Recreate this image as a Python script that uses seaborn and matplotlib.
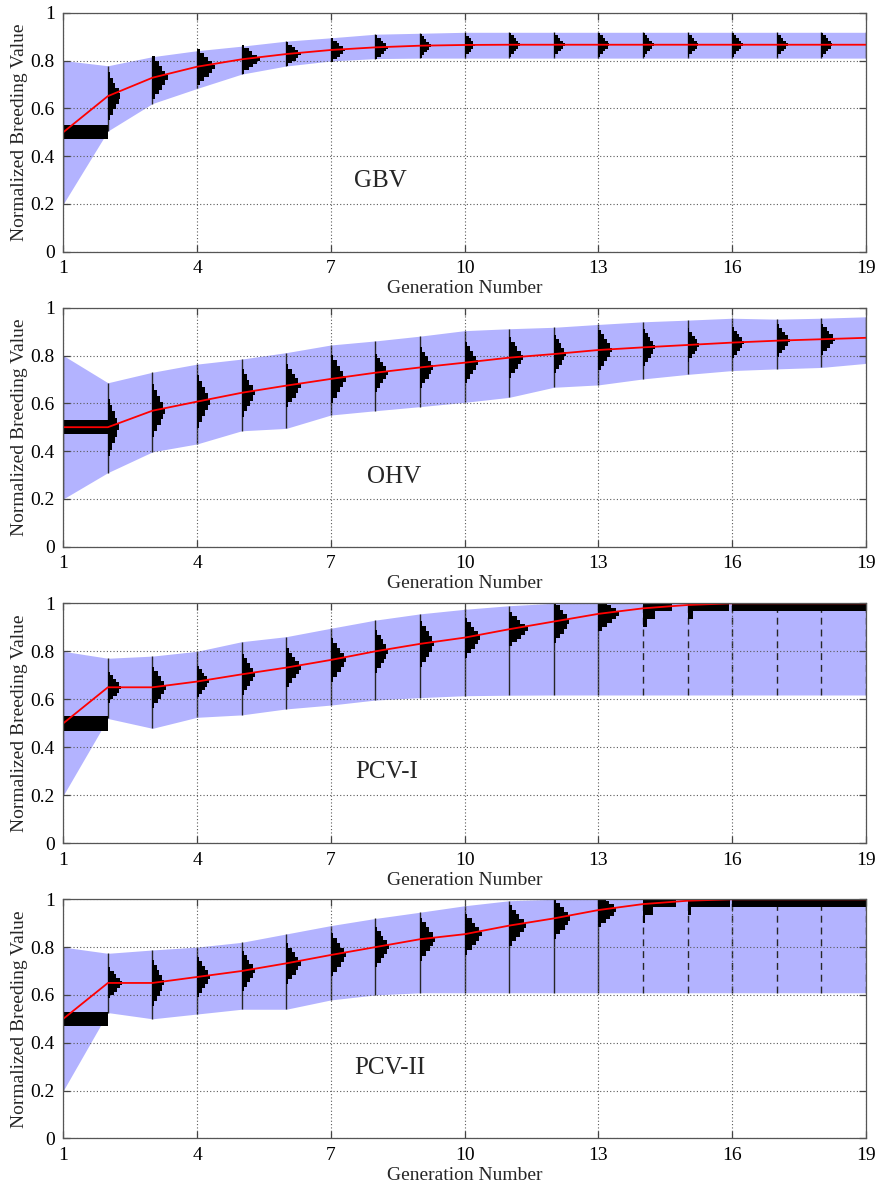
import matplotlib
matplotlib.use("Agg")
import matplotlib.pyplot as plt
import seaborn as sns
import numpy as np

# ---------------- data ----------------
GENS = list(range(1, 20))
PANEL_NAMES = ["GBV", "OHV", "PCV-I", "PCV-II"]
X_TICKS = [1, 4, 7, 10, 13, 16, 19]
Y_TICKS = [0, 0.2, 0.4, 0.6, 0.8, 1.0]
Y_TICK_LABELS = ["0", "0.2", "0.4", "0.6", "0.8", "1"]

GBV_MEAN = [0.50, 0.651, 0.728, 0.774, 0.805, 0.827, 0.844, 0.855, 0.862, 0.865,
            0.866, 0.866, 0.866, 0.866, 0.866, 0.866, 0.866, 0.866, 0.866]
GBV_UPPER = [0.80, 0.778, 0.816, 0.841, 0.860, 0.881, 0.895, 0.910, 0.914, 0.918,
             0.918, 0.918, 0.918, 0.918, 0.918, 0.918, 0.918, 0.918, 0.918]
GBV_LOWER = [0.20, 0.505, 0.620, 0.683, 0.743, 0.777, 0.798, 0.808, 0.810, 0.810,
             0.810, 0.810, 0.810, 0.810, 0.810, 0.810, 0.810, 0.810, 0.810]
GBV_HALF = [0.03, 0.10, 0.09, 0.075, 0.06, 0.05, 0.05, 0.05, 0.05, 0.05,
            0.05, 0.05, 0.05, 0.05, 0.05, 0.05, 0.05, 0.05, 0.05]
GBV_PEAK = [1.0, 0.28, 0.34, 0.40, 0.40, 0.32, 0.32, 0.29, 0.24, 0.23,
            0.24, 0.24, 0.24, 0.24, 0.24, 0.24, 0.24, 0.24, 0.24]
GBV_TOP = {}

OHV_MEAN = [0.50, 0.50, 0.569, 0.607, 0.644, 0.674, 0.702, 0.728, 0.750, 0.770,
            0.791, 0.806, 0.823, 0.834, 0.844, 0.854, 0.862, 0.868, 0.874]
OHV_UPPER = [0.80, 0.686, 0.730, 0.764, 0.785, 0.812, 0.844, 0.861, 0.881, 0.904,
             0.912, 0.918, 0.930, 0.941, 0.948, 0.956, 0.952, 0.956, 0.962]
OHV_LOWER = [0.20, 0.310, 0.397, 0.430, 0.485, 0.495, 0.551, 0.569, 0.586, 0.604,
             0.625, 0.667, 0.677, 0.702, 0.721, 0.737, 0.744, 0.750, 0.767]
OHV_HALF = [0.03, 0.12, 0.11, 0.11, 0.10, 0.09, 0.10, 0.08, 0.085, 0.087,
            0.085, 0.08, 0.085, 0.077, 0.07, 0.065, 0.068, 0.065, 0.065]
OHV_PEAK = [1.0, 0.25, 0.28, 0.29, 0.29, 0.32, 0.33, 0.27, 0.30, 0.30,
            0.30, 0.28, 0.31, 0.27, 0.26, 0.27, 0.29, 0.30, 0.30]
OHV_TOP = {}

PCV1_MEAN = [0.50, 0.650, 0.650, 0.674, 0.704, 0.732, 0.764, 0.800, 0.831, 0.857,
             0.892, 0.924, 0.956, 0.979, 0.993, 1.0, 1.0, 1.0, 1.0]
PCV1_UPPER = [0.80, 0.771, 0.780, 0.800, 0.840, 0.861, 0.896, 0.930, 0.956, 0.975,
              0.990, 1.0, 1.0, 1.0, 1.0, 1.0, 1.0, 1.0, 1.0]
PCV1_LOWER = [0.20, 0.520, 0.479, 0.525, 0.535, 0.560, 0.576, 0.597, 0.607, 0.615,
              0.617, 0.618, 0.618, 0.618, 0.618, 0.618, 0.618, 0.618, 0.618]
PCV1_HALF = [0.03, 0.065, 0.085, 0.065, 0.085, 0.08, 0.09, 0.09, 0.097, 0.083,
             0.07, 0.09, 0.07, 0.03, 0.03, 0.03, 0.03, 0.03, 0.03]
PCV1_PEAK = [1.0, 0.30, 0.30, 0.26, 0.30, 0.34, 0.34, 0.29, 0.32, 0.34,
             0.41, 0.35, 0.47, 0.65, 0.92, 1.0, 1.0, 1.0, 1.0]
PCV1_TOP = {14: [1.0, 0.43, 0.12], 15: [1.0, 0.12], 16: [1.0], 17: [1.0],
            18: [1.0], 19: [1.0]}

PCV2_MEAN = [0.50, 0.650, 0.650, 0.675, 0.700, 0.732, 0.767, 0.800, 0.833, 0.854,
             0.890, 0.920, 0.955, 0.980, 0.994, 1.0, 1.0, 1.0, 1.0]
PCV2_UPPER = [0.80, 0.774, 0.788, 0.800, 0.820, 0.855, 0.890, 0.920, 0.946, 0.973,
              0.994, 1.0, 1.0, 1.0, 1.0, 1.0, 1.0, 1.0, 1.0]
PCV2_LOWER = [0.20, 0.526, 0.500, 0.520, 0.540, 0.540, 0.579, 0.600, 0.609, 0.609,
              0.609, 0.609, 0.609, 0.609, 0.609, 0.609, 0.609, 0.609, 0.609]
PCV2_HALF = [0.03, 0.065, 0.095, 0.085, 0.085, 0.085, 0.09, 0.085, 0.09, 0.085,
             0.085, 0.085, 0.07, 0.03, 0.03, 0.03, 0.03, 0.03, 0.03]
PCV2_PEAK = [1.0, 0.32, 0.25, 0.28, 0.29, 0.32, 0.34, 0.30, 0.34, 0.39,
             0.38, 0.37, 0.40, 0.73, 0.94, 1.0, 1.0, 1.0, 1.0]
PCV2_TOP = {14: [1.0, 0.31, 0.07], 15: [1.0, 0.07], 16: [1.0], 17: [1.0],
            18: [1.0], 19: [1.0]}

# relative bar lengths of a typical histogram (bottom bin to top bin)
HIST_PROFILE = [0.15, 0.4, 0.65, 0.85, 1.0, 0.85, 0.6, 0.4, 0.15]
TOP_BIN_HEIGHT = 0.033
FIRST_GEN_BIN_HEIGHT = 0.06

PANELS = [
    (GBV_MEAN, GBV_UPPER, GBV_LOWER, GBV_HALF, GBV_PEAK, GBV_TOP, None),
    (OHV_MEAN, OHV_UPPER, OHV_LOWER, OHV_HALF, OHV_PEAK, OHV_TOP, None),
    (PCV1_MEAN, PCV1_UPPER, PCV1_LOWER, PCV1_HALF, PCV1_PEAK, PCV1_TOP, 14),
    (PCV2_MEAN, PCV2_UPPER, PCV2_LOWER, PCV2_HALF, PCV2_PEAK, PCV2_TOP, 14),
]
LABEL_POS = [(8.10, 0.296), (8.42, 0.293), (8.24, 0.295), (8.33, 0.296)]

# ---------------- style ----------------
sns.set_style("ticks")
plt.rcParams["font.family"] = ["Liberation Serif", "DejaVu Serif"]
plt.rcParams["axes.linewidth"] = 0.9

BAND_COLOR = "#b3b3ff"
W, H = 879, 1190
fig = plt.figure(figsize=(W / 100, H / 100), dpi=100)

rects = []
left_px, right_px = 63.3, 866.0
for top_px, bot_px in [(12.7, 251.7), (307.7, 546.7), (603.3, 843.3), (899.3, 1138.3)]:
    rects.append([left_px / W, 1 - bot_px / H, (right_px - left_px) / W,
                  (bot_px - top_px) / H])

for i, (rect, panel) in enumerate(zip(rects, PANELS)):
    mean, upper, lower, half, peak, top, dash_from = panel
    ax = fig.add_axes(rect)
    ax.set_axisbelow(False)

    # min/max band
    ax.fill_between(GENS, lower, upper, color=BAND_COLOR, lw=0, zorder=1)

    # vertical range lines
    for g, lo, hi in zip(GENS, lower, upper):
        ls = "-" if (dash_from is None or g < dash_from) else (0, (5, 3.5))
        ax.vlines(g, lo, hi, color="#262626", lw=1.0, linestyles=ls, zorder=2)

    # histograms
    for g, m, hf, pk in zip(GENS, mean, half, peak):
        if g in top:
            prof = top[g]
            bh = TOP_BIN_HEIGHT
            centers = [1.0 - bh * (k + 0.5) for k in range(len(prof))]
            widths = [pk * p for p in prof]
        elif g == 1:
            bh = FIRST_GEN_BIN_HEIGHT
            centers = [m]
            widths = [pk]
        else:
            n = len(HIST_PROFILE)
            bh = 2 * hf / n
            centers = [m - hf + bh * (k + 0.5) for k in range(n)]
            widths = [pk * p for p in HIST_PROFILE]
        ax.barh(centers, widths, height=bh, left=g, color="black",
                edgecolor="none", lw=0, zorder=3)

    # mean line
    sns.lineplot(x=GENS, y=mean, color="#ff0000", lw=1.3, ax=ax, zorder=4)

    ax.set_xlim(1, 19)
    ax.set_ylim(0, 1)
    ax.set_xticks(X_TICKS)
    ax.set_xticklabels([str(t) for t in X_TICKS])
    ax.set_yticks(Y_TICKS)
    ax.set_yticklabels(Y_TICK_LABELS)
    ax.grid(True, linestyle=(0, (1, 2)), color="#5a5a5a", lw=0.8)
    ax.tick_params(direction="in", top=True, right=True, length=5, width=0.9,
                   color="#444444", labelsize=14, pad=6, labelcolor="black")
    for s in ax.spines.values():
        s.set_color("#555555")
        s.set_zorder(5)

    ax.set_xlabel("Generation Number", fontsize=14, labelpad=0)
    ax.set_ylabel("Normalized Breeding Value", fontsize=14)
    ax.xaxis.set_label_coords(0.5, -0.12)
    ax.yaxis.set_label_coords(-0.044, 0.5)

    lx, ly = LABEL_POS[i]
    ax.text(lx, ly, PANEL_NAMES[i], fontsize=18, ha="center", va="center",
            zorder=6)

fig.savefig("out.png", dpi=100)
